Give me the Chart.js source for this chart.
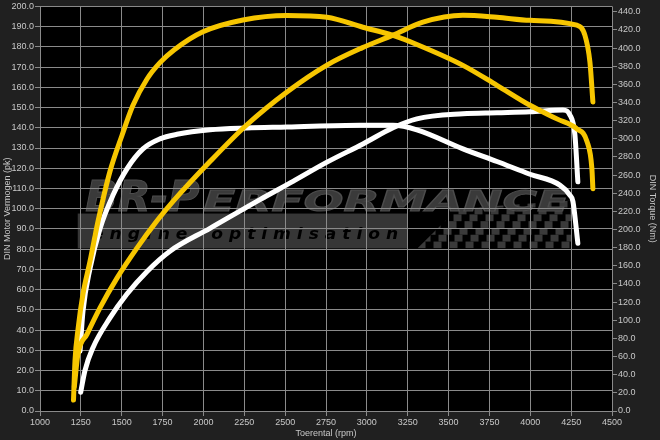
<!DOCTYPE html>
<html>
<head>
<meta charset="utf-8">
<script src="https://cdn.jsdelivr.net/npm/chart.js@4.4.1/dist/chart.umd.min.js"></script>
<style>
html, body { margin: 0; padding: 0; background: #202020; }
#wrap { width: 660px; height: 440px; }
</style>
</head>
<body>
<div id="wrap"><canvas id="dyno"></canvas></div>
<script>
// tuned (yellow) torque, Nm on right axis
const tunedTorqueRpm = [1205, 1214, 1234, 1263, 1306, 1355, 1428, 1502, 1569, 1655, 1734, 1820, 1997, 2242, 2511, 2756, 2976, 3160, 3306, 3588, 3796, 3998, 4163, 4285, 4347, 4377, 4383];
const tunedTorqueNm  = [12, 55, 92, 129, 165, 209, 264, 304, 337, 366, 384, 398, 418, 431, 436, 434, 423, 414, 404, 381, 359, 337, 322, 311, 297, 267, 245];

// tuned (yellow) power, pk on left axis
const tunedPowerRpm = [1210, 1232, 1288, 1367, 1471, 1593, 1716, 1814, 2040, 2266, 2511, 2756, 2970, 3160, 3343, 3588, 3796, 3998, 4285, 4334, 4365, 4383];
const tunedPowerPk  = [12, 28, 38, 51, 65.7, 80.5, 94, 103.6, 123.3, 141.5, 157.7, 171, 179.5, 185.8, 192.2, 195.6, 194.6, 193.1, 190.7, 185.8, 172.4, 152.8];

// stock (white) torque, Nm on right axis
const stockTorqueRpm = [1245, 1263, 1306, 1367, 1447, 1532, 1630, 1734, 1838, 2040, 2266, 2511, 2958, 3160, 3306, 3588, 3796, 3998, 4181, 4242, 4261, 4291];
const stockTorqueNm  = [66, 110, 157, 201, 238, 267, 289, 300, 305, 310, 312, 313, 315, 315, 310, 289, 275, 261, 249, 238, 231, 185];

// stock (white) power, pk on left axis
const stockPowerRpm = [1249, 1275, 1324, 1428, 1532, 1655, 1795, 2040, 2346, 2548, 2756, 2976, 3160, 3306, 3588, 3796, 3998, 4200, 4242, 4273, 4291];
const stockPowerPk  = [9.3, 20, 31.3, 46, 57.8, 69, 79, 90.3, 104.5, 113.5, 123, 132, 140, 144.4, 146.9, 147.4, 147.9, 148.8, 146.4, 136.5, 113.3];

const yellow = '#f7c600';
const white = '#ffffff';
const gridColor = '#8a8a8a';
const textColor = '#c8c8c8';
const fontFamily = '"Liberation Sans", Arial, sans-serif';

function pts(xs, ys) {
  return xs.map((x, i) => ({ x: x, y: ys[i] }));
}

function curve(data, color, axis) {
  return {
    data: data,
    yAxisID: axis,
    borderColor: color,
    borderWidth: 5,
    borderCapStyle: 'round',
    borderJoinStyle: 'round',
    pointRadius: 0,
    cubicInterpolationMode: 'monotone',
    fill: false
  };
}

// stretch or squeeze a text to an exact width
function fitText(ctx, text, x, y, width, stroke) {
  const m = ctx.measureText(text).width;
  ctx.save();
  ctx.translate(x, y);
  ctx.scale(width / m, 1);
  ctx.fillText(text, 0, 0);
  if (stroke) ctx.strokeText(text, 0, 0);
  ctx.restore();
}

// black plot area + BR-Performance watermark, under the grid
const backdrop = {
  id: 'backdrop',
  beforeDraw(chart) {
    const { ctx, chartArea: a } = chart;
    const w = a.right - a.left, h = a.bottom - a.top;
    const X = f => a.left + w * f;
    const Y = f => a.top + h * f;
    ctx.save();
    ctx.fillStyle = '#000000';
    ctx.fillRect(a.left, a.top, w, h);

    // grey band
    ctx.fillStyle = '#363636';
    ctx.fillRect(X(0.066), Y(0.512), w * 0.577, h * 0.086);

    // checkered flag
    ctx.save();
    ctx.beginPath();
    ctx.moveTo(X(0.66), Y(0.598));
    ctx.lineTo(X(0.73), Y(0.50));
    ctx.lineTo(X(0.93), Y(0.48));
    ctx.lineTo(X(0.93), Y(0.598));
    ctx.closePath();
    ctx.clip();
    ctx.fillStyle = '#3a3a3a';
    const sq = 8;
    for (let r = 0; r < 8; r++) {
      for (let c = 0; c < 26; c++) {
        if ((r + c) % 2) continue;
        const x0 = X(0.66) + c * sq - r * 3;
        const y0 = Y(0.598) - (r + 1) * sq * 0.85;
        ctx.fillRect(x0, y0, sq, sq * 0.85);
      }
    }
    ctx.restore();

    ctx.fillStyle = '#3a3a3a';
    ctx.strokeStyle = '#4c4c4c';
    ctx.lineWidth = 1;
    ctx.textBaseline = 'alphabetic';
    ctx.font = 'italic bold 42px "DejaVu Sans"';
    fitText(ctx, 'BR-P', X(0.079), Y(0.505), w * 0.2, true);
    ctx.font = 'italic bold 29px "DejaVu Sans"';
    fitText(ctx, 'ERFORMANCE', X(0.285), Y(0.505), w * 0.64, true);

    ctx.font = 'italic bold 16px "DejaVu Sans"';
    ctx.fillStyle = '#000000';
    fitText(ctx, 'e n g i n e    o p t i m i s a t i o n', X(0.091), Y(0.576), w * 0.535, false);
    ctx.restore();
  }
};

const tickFont = { family: fontFamily, size: 9 };

new Chart(document.getElementById('dyno'), {
  type: 'line',
  data: {
    datasets: [
      curve(pts(tunedTorqueRpm, tunedTorqueNm), yellow, 'y2'),
      curve(pts(tunedPowerRpm, tunedPowerPk), yellow, 'y'),
      curve(pts(stockTorqueRpm, stockTorqueNm), white, 'y2'),
      curve(pts(stockPowerRpm, stockPowerPk), white, 'y')
    ]
  },
  options: {
    animation: false,
    responsive: true,
    maintainAspectRatio: false,
    plugins: {
      legend: { display: false },
      tooltip: { enabled: false }
    },
    scales: {
      x: {
        type: 'linear',
        min: 1000,
        max: 4500,
        afterFit(s) { s.height = 29; },
        ticks: { stepSize: 250, color: textColor, padding: 1, maxRotation: 0, font: tickFont,
          callback: v => String(v) },
        grid: { color: gridColor, tickColor: gridColor, tickLength: 5 },
        border: { display: false },
        title: { display: true, text: 'Toerental (rpm)', color: textColor, padding: { top: 0, bottom: 1 }, font: tickFont }
      },
      y: {
        position: 'left',
        min: 0,
        max: 200,
        afterFit(s) { s.width = 40; },
        ticks: { stepSize: 10, color: textColor, padding: 1, font: tickFont, callback: v => v.toFixed(1) },
        grid: { color: gridColor, tickColor: gridColor, tickLength: 5 },
        border: { display: false },
        title: { display: true, text: 'DIN Motor Vermogen (pk)', color: textColor, padding: { top: 2, bottom: 0 }, font: tickFont }
      },
      y2: {
        position: 'right',
        min: 0,
        max: 446,
        afterFit(s) { s.width = 48; },
        ticks: { stepSize: 20, includeBounds: false, color: textColor, padding: 1, font: tickFont,
          callback: v => v.toFixed(1) },
        grid: { drawOnChartArea: false, color: gridColor, tickColor: gridColor, tickLength: 5 },
        border: { display: false },
        title: { display: true, text: 'DIN Torque (Nm)', color: textColor, padding: { top: 2, bottom: 0 }, font: tickFont }
      }
    }
  },
  plugins: [backdrop]
});
</script>
</body>
</html>
